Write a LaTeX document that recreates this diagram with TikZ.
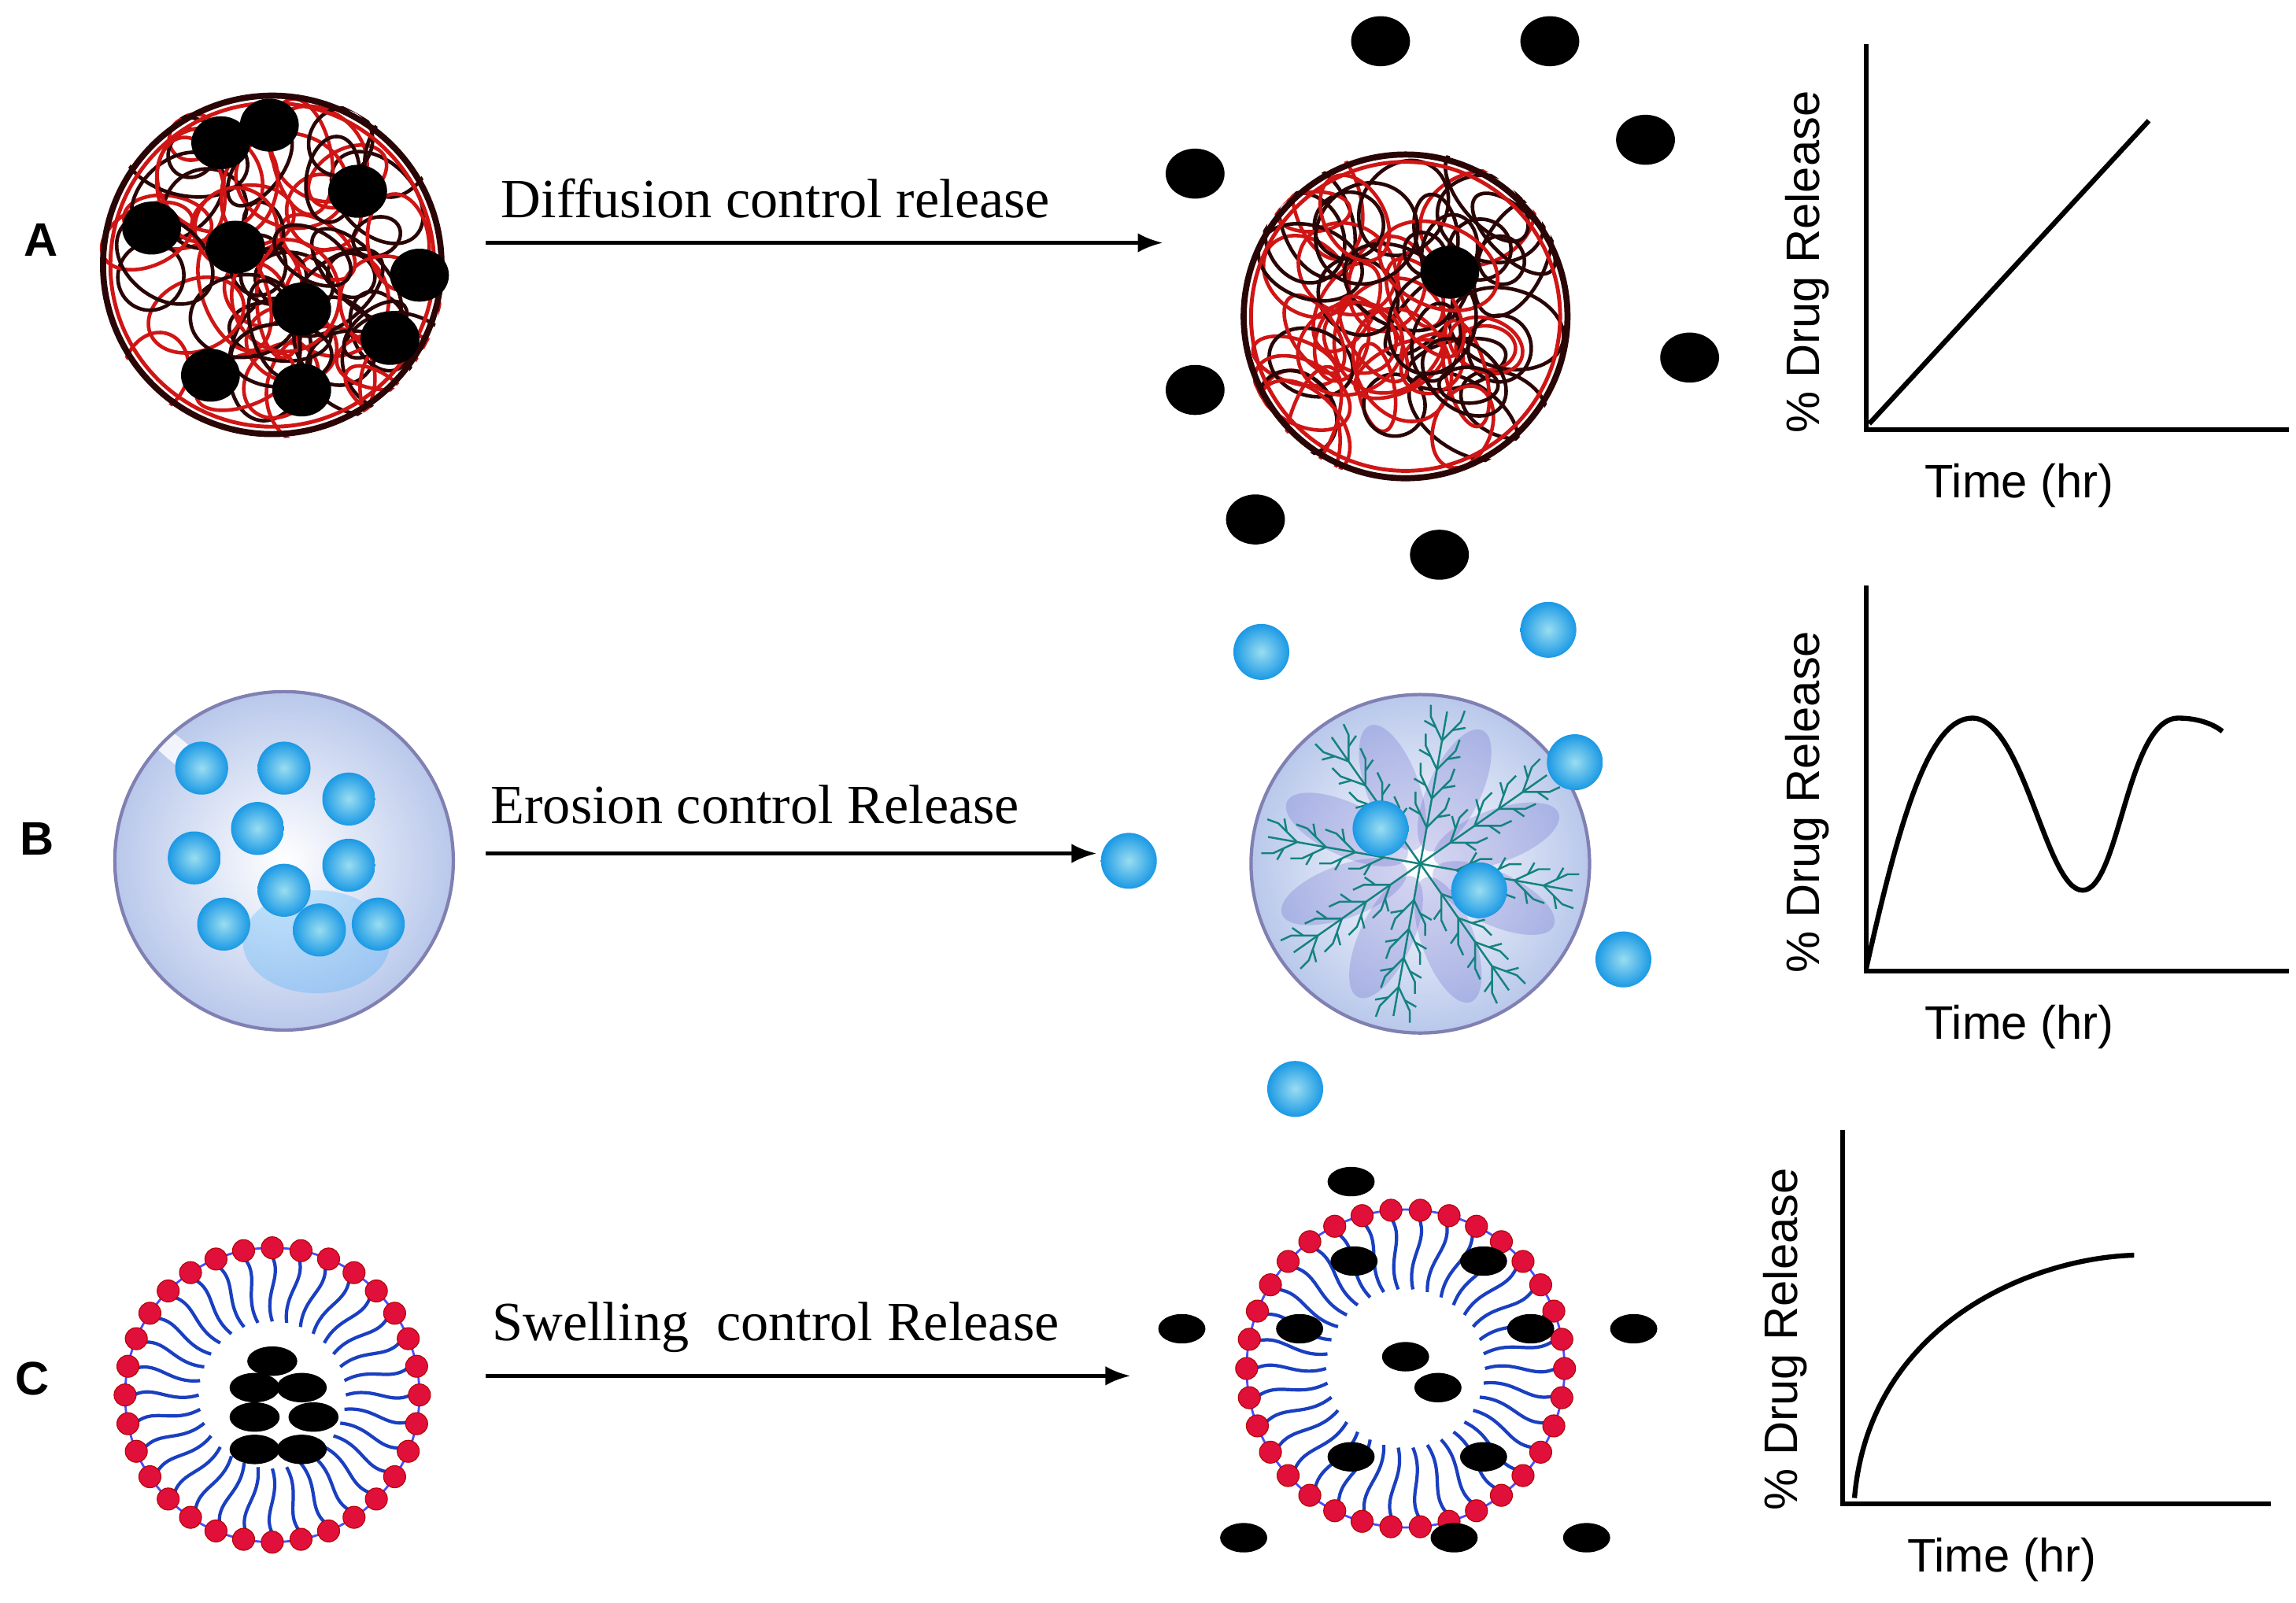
\documentclass[tikz,border=0pt]{standalone}
\usepackage{fontspec}
\setmainfont{Liberation Serif}
\newfontfamily\sansf{Liberation Sans}
\usetikzlibrary{calc,arrows.meta}
\definecolor{tred}{HTML}{D01515}
\definecolor{tdark}{HTML}{2A0505}
\definecolor{dcyan}{HTML}{1FB4E0}
\definecolor{teal2}{HTML}{14827F}
\definecolor{headred}{HTML}{E0103A}
\definecolor{tailblue}{HTML}{1A3FC0}
\begin{document}
\begin{tikzpicture}[x=0.0187cm,y=-0.0187cm,
  lab/.style={font=\sansf\bfseries\fontsize{17}{20}\selectfont},
  captxt/.style={font=\fontsize{20}{24}\selectfont},
  glab/.style={font=\sansf\fontsize{17}{20}\selectfont},
  arr/.style={-{Latex[length=9pt,width=7pt]},line width=1.3pt},
  ax/.style={line width=1.8pt},
  crv/.style={line width=1.8pt},
  drug/.style={fill=black},
  bball/.style={inner color=white!55!dcyan,outer color=dcyan!85!blue},
  bigsph/.style={inner color=white,outer color={rgb,255:red,185;green,200;blue,235}},
  head/.style={fill=headred,draw=red!70!black,line width=0.3pt},
  tail/.style={draw=tailblue,line width=1.2pt},
  tg/.style={line width=1.3pt}]
\useasboundingbox (0,0) rectangle (1560,1089);
\pgfmathsetseed{7}
% ---------- Row A ----------
\node[lab] (LA) at (28,163) {A};
\foreach \cx/\cy/\R in {185/180/118, 955/215/113}{
  \begin{scope}
  \clip (\cx,\cy) circle [radius=\R];
  \foreach \i in {1,...,60}{
    \pgfmathsetmacro\px{\cx+0.75*\R*rand}
    \pgfmathsetmacro\py{\cy+0.75*\R*rand}
    \pgfmathsetmacro\rx{15+28*rnd}
    \pgfmathsetmacro\ry{12+25*rnd}
    \pgfmathsetmacro\an{360*rnd}
    \pgfmathsetmacro\cc{mod(\i,2)}
    \ifdim\cc pt>0.5pt \def\col{tred}\else\def\col{tdark}\fi
    \draw[tg,\col,rotate around={\an:(\px,\py)}] (\px,\py) ellipse [x radius=\rx, y radius=\ry];
  }
  \end{scope}
  \draw[tdark,line width=2.2pt] (\cx,\cy) circle [radius=\R-3];
  \draw[tred,line width=1.4pt] (\cx,\cy) circle [radius=\R-8];
}
\foreach \x/\y in {150/97,183/85,243/130,103/155,160/168,285/187,205/210,265/230,143/255,205/265}{
  \fill[drug] (\x,\y) ellipse [x radius=20, y radius=18];
}
\fill[drug] (985,185) ellipse [x radius=20, y radius=18];
\foreach \x/\y in {938/28,1053/28,1118/95,812/118,1148/243,812/265,853/353,978/377}{
  \fill[drug] (\x,\y) ellipse [x radius=20, y radius=17];
}
\node[captxt] (TA) at (527,135) {Diffusion control release};
\coordinate (A1) at (330,165); \coordinate (A2) at (790,165);
\draw[arr] (A1) -- (A2);
% graph A
\coordinate (GA0) at (1268,292);
\draw[ax] (1268,30) -- (GA0) -- (1555,292);
\draw[crv] (1270,288) -- (1460,82);
\node[glab,rotate=90] (YA) at (1228,178) {\% Drug Release};
\node[glab] (XA) at (1372,330) {Time (hr)};
% ---------- Row B ----------
\node[lab] (LB) at (25,570) {B};
\shade[bigsph] (193,585) circle [radius=115];
\fill[blue!40!cyan,opacity=0.2] (215,640) ellipse [x radius=50, y radius=35];
\fill[white,opacity=0.8,rotate around={-40:(120,510)}] (120,510) ellipse [x radius=35, y radius=8];
\draw[blue!25!gray!80,line width=1.2pt] (193,585) circle [radius=115];
\foreach \x/\y in {137/522,193/522,237/543,175/563,132/583,237/588,193/605,152/628,217/632,257/628}{
  \shade[bball] (\x,\y) circle [radius=18];
}
\node[captxt] (TB) at (513,547) {Erosion control Release};
\coordinate (B1) at (330,580); \coordinate (B2) at (745,580);
\draw[arr] (B1) -- (B2);
\shade[bball] (767,585) circle [radius=19];
% right sphere
\shade[bigsph] (965,587) circle [radius=115];
\foreach \a in {0,45,...,315}{
  \fill[blue!50!gray,opacity=0.2,rotate around={\a+20:(965,587)}] ($(965,587)+(55,0)$) ellipse [x radius=45, y radius=18];
}
\begin{scope}[teal2,line width=0.7pt]
\foreach \a in {10,55,100,145,190,235,280,325}{
  \draw (965,587) -- ++(\a:105);
  \foreach \t in {25,45,65,85}{
    \draw ($(965,587)+(\a:\t)$) -- ++(\a+35:18) -- ++(\a+10:8);
    \draw ($(965,587)+(\a:\t)$) -- ++(\a-35:18) -- ++(\a-10:8);
    \draw ($(965,587)+(\a:\t)+(\a+35:10)$) -- ++(\a+70:9);
    \draw ($(965,587)+(\a:\t)+(\a-35:10)$) -- ++(\a-70:9);
  }
}
\end{scope}
\draw[blue!25!gray!80,line width=1.2pt] (965,587) circle [radius=115];
\foreach \x/\y in {857/443,1052/428,1070/518,1103/652,880/740,938/563,1005/605}{
  \shade[bball] (\x,\y) circle [radius=19];
}
% graph B
\draw[ax] (1268,398) -- (1268,660) -- (1555,660);
\draw[crv] (1268,658) .. controls (1290,560) and (1310,488) .. (1340,488)
  .. controls (1375,488) and (1390,605) .. (1415,605)
  .. controls (1440,605) and (1445,488) .. (1480,488)
  .. controls (1495,488) and (1505,493) .. (1510,497);
\node[glab,rotate=90] (YB) at (1228,545) {\% Drug Release};
\node[glab] (XB) at (1372,698) {Time (hr)};
% ---------- Row C ----------
\node[lab] (LC) at (22,937) {C};
\foreach \cx/\cy/\R/\N in {185/948/100/32, 955/930/108/34}{
  \draw[blue!70,line width=0.8pt] (\cx,\cy) circle [radius=\R];
  \pgfmathsetmacro\st{360/\N}
  \foreach \k in {1,...,\N}{
    \pgfmathsetmacro\a{\k*\st}
    \draw[tail] ($(\cx,\cy)+(\a:\R-6)$) .. controls ($(\cx,\cy)+(\a+5:\R*0.8)$) and ($(\cx,\cy)+(\a-5:\R*0.7)$) .. ($(\cx,\cy)+(\a:\R*0.5)$);
  }
  \foreach \k in {1,...,\N}{
    \pgfmathsetmacro\a{\k*\st}
    \filldraw[head] ($(\cx,\cy)+(\a:\R)$) circle [radius=7.5];
  }
}
\foreach \x/\y in {185/925,173/943,205/943,173/963,213/963,173/985,205/985}{
  \fill[drug] (\x,\y) ellipse [x radius=17, y radius=10];
}
\foreach \x/\y in {920/857,1008/857,883/903,1040/903,955/922,977/943,918/990,1008/990,918/803,803/903,1110/903,845/1045,988/1045,1078/1045}{
  \fill[drug] (\x,\y) ellipse [x radius=16, y radius=10];
}
\node[captxt] (TC) at (527,902) {Swelling\ \ control Release};
\coordinate (C1) at (330,935); \coordinate (C2) at (768,935);
\draw[arr] (C1) -- (C2);
% graph C
\draw[ax] (1252,768) -- (1252,1022) -- (1543,1022);
\draw[crv] (1260,1018) .. controls (1270,900) and (1380,855) .. (1450,853);
\node[glab,rotate=90] (YC) at (1213,910) {\% Drug Release};
\node[glab] (XC) at (1360,1060) {Time (hr)};
\end{tikzpicture}
\end{document}
